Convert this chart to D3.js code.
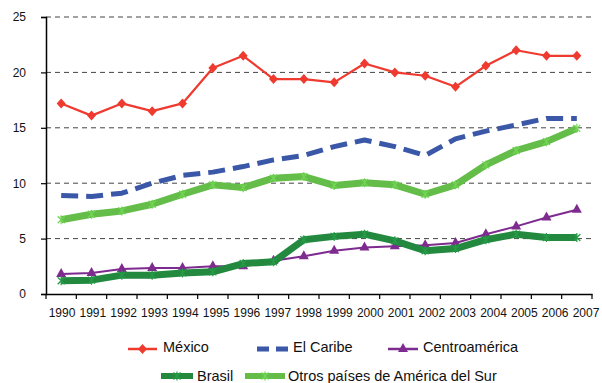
<!DOCTYPE html>
<html><head><meta charset="utf-8">
<script src="https://cdn.jsdelivr.net/npm/d3@7"></script>
<style>body{margin:0;background:#fff}svg{display:block;font-family:"Liberation Sans",Arial,Helvetica,sans-serif}</style>
</head><body><svg id="c" width="602" height="383"></svg>
<script>
const years = ["1990","1991","1992","1993","1994","1995","1996","1997","1998","1999","2000","2001","2002","2003","2004","2005","2006","2007"];
const yTicks = [0,5,10,15,20,25];
const mexico = [17.2,16.1,17.2,16.5,17.2,20.4,21.5,19.4,19.4,19.1,20.8,20.0,19.7,18.7,20.6,22.0,21.5,21.5];
const caribe = [8.9,8.8,9.1,10.0,10.7,11.0,11.5,12.1,12.5,13.3,13.9,13.3,12.5,14.0,14.7,15.25,15.85,15.85];
const centro = [1.8,1.9,2.25,2.35,2.35,2.5,2.5,3.0,3.4,3.9,4.2,4.3,4.4,4.6,5.4,6.1,6.9,7.6];
const brasil = [1.2,1.25,1.7,1.7,1.9,2.0,2.75,2.9,4.9,5.2,5.4,4.8,3.9,4.1,4.9,5.4,5.1,5.1];
const otros = [6.7,7.2,7.5,8.1,9.0,9.85,9.6,10.45,10.6,9.8,10.05,9.85,9.0,9.85,11.65,12.95,13.75,14.95];

const series = [
  {name:"México", values:mexico, color:"#ee3a2f", width:2.2, dash:null, marker:"diamond"},
  {name:"El Caribe", values:caribe, color:"#3b57a7", width:5, dash:"17,8", marker:null},
  {name:"Centroamérica", values:centro, color:"#7e2b8f", width:2, dash:null, marker:"triangle"},
  {name:"Brasil", values:brasil, color:"#22893f", width:7, dash:null, marker:"star"},
  {name:"Otros países de América del Sur", values:otros, color:"#63bd48", width:7, dash:null, marker:"star"}
];

const svg = d3.select("#c");
const pL = 46, pR = 592, pT = 17, pB = 294;
const x = d3.scaleBand().domain(years).range([pL,pR]).padding(0);
const xl = d3.scalePoint().domain(years).range([62,586]);
const y = d3.scaleLinear().domain([0,25]).range([pB,pT]);

// gridlines
svg.append("g").selectAll("line").data(yTicks.filter(d=>d>0)).join("line")
  .attr("x1",pL).attr("x2",pR).attr("y1",d=>y(d)).attr("y2",d=>y(d))
  .attr("stroke","#444").attr("stroke-width",1).attr("stroke-dasharray","5,4");

// y axis
const ya = svg.append("g").attr("transform",`translate(${pL},0)`)
  .call(d3.axisLeft(y).tickValues(yTicks).tickSize(5).tickPadding(4));
ya.select(".domain").attr("stroke","#000").attr("stroke-width",1.5);
ya.selectAll(".tick line").attr("stroke","#000").attr("stroke-width",1.2);
ya.selectAll("text").attr("font-size",12).attr("fill","#111").attr("x",-20).attr("text-anchor","end").attr("font-family","Liberation Sans, Arial, sans-serif");

// x axis
const xa = svg.append("g").attr("transform",`translate(0,${pB})`)
  .call(d3.axisBottom(x).tickSize(0).tickSizeOuter(0).tickPadding(0));
xa.select(".domain").attr("stroke","#000").attr("stroke-width",1.5);
xa.selectAll(".tick line").remove();
xa.selectAll(".tick text").remove();
const bounds = years.map(d=>x(d)).concat([x(years[years.length-1])+x.bandwidth()]);
xa.selectAll("line.tk").data(bounds).join("line").attr("class","tk")
  .attr("x1",d=>d).attr("x2",d=>d).attr("y1",0).attr("y2",5)
  .attr("stroke","#000").attr("stroke-width",1.2);
svg.append("g").selectAll("text").data(years).join("text")
  .attr("x",d=>xl(d)).attr("y",317).attr("text-anchor","middle")
  .attr("font-size",12).attr("fill","#111").text(d=>d);

const cx = d => x(d)+x.bandwidth()/2;
const line = d3.line().x((v,i)=>cx(years[i])).y(v=>y(v));

function marker(g, type, color, px, py){
  if(type==="diamond"){
    g.append("path").attr("d",`M${px},${py-5}L${px+4.5},${py}L${px},${py+5}L${px-4.5},${py}Z`).attr("fill",color);
  } else if(type==="triangle"){
    g.append("path").attr("d",`M${px},${py-6}L${px+5},${py+3}L${px-5},${py+3}Z`).attr("fill",color);
  } else if(type==="star"){
    const c = d3.color(color).brighter(0.35);
    g.append("path").attr("d",`M${px-3.5},${py-3.5}L${px+3.5},${py+3.5}M${px+3.5},${py-3.5}L${px-3.5},${py+3.5}M${px},${py-4.5}L${px},${py+4.5}`)
      .attr("stroke",c).attr("stroke-width",1.2).attr("fill","none");
  }
}

series.forEach(s=>{
  const g = svg.append("g");
  g.append("path").datum(s.values).attr("d",line).attr("fill","none")
    .attr("stroke",s.color).attr("stroke-width",s.width)
    .attr("stroke-dasharray",s.dash).attr("stroke-linejoin","round");
  if(s.marker) s.values.forEach((v,i)=>marker(g,s.marker,s.color,cx(years[i]),y(v)));
});

// legend
const legPos = [
  {lx1:128,lx2:157,tx:163,ly:349,ty:352},
  {lx1:257,lx2:290,tx:293,ly:349,ty:352},
  {lx1:388,lx2:418,tx:423,ly:349,ty:352},
  {lx1:161,lx2:193,tx:197,ly:376,ty:381},
  {lx1:245,lx2:285,tx:288,ly:376,ty:381}
];
series.forEach((s,i)=>{
  const p = legPos[i];
  const g = svg.append("g");
  const lw = s.name==="El Caribe" ? 5 : (s.width>5 ? 6 : 2.5);
  g.append("line").attr("x1",p.lx1).attr("x2",p.lx2).attr("y1",p.ly).attr("y2",p.ly)
    .attr("stroke",s.color).attr("stroke-width",lw)
    .attr("stroke-dasharray",s.name==="El Caribe"?"12,7":null);
  if(s.marker) marker(g,s.marker,s.color,(p.lx1+p.lx2)/2,p.ly);
  g.append("text").attr("x",p.tx).attr("y",p.ty).attr("font-size",14.5).attr("fill","#111").text(s.name);
});
</script></body></html>
